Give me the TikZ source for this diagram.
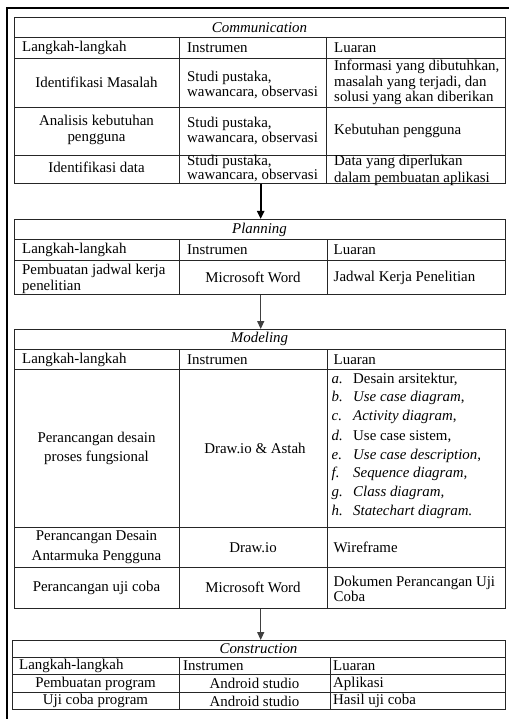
\documentclass[tikz,border=0pt]{standalone}
\usepackage{fontspec}
\setmainfont{Liberation Serif}
\usetikzlibrary{arrows.meta}
\begin{document}
\begin{tikzpicture}[x=1pt,y=-1pt,
  cell/.style={font=\fontsize{14.9}{15.7}\selectfont, inner sep=0pt, align=left},
  lcell/.style={cell, anchor=west},
  ccell/.style={cell, align=center},
  ttl/.style={cell, font=\fontsize{14.9}{15.7}\selectfont\itshape},
  tab/.style={draw=black!85, line width=0.9pt, inner sep=0pt, anchor=north west, rectangle},
  rule/.style={draw=black!85, line width=0.9pt},
  frame/.style={draw=black, line width=2.2pt},
  flow/.style={draw=black!75, line width=1.2pt, -{Triangle[width=7pt,length=8pt]}},
  flowbold/.style={flow, draw=black, line width=2pt},
]
\useasboundingbox (0,0) rectangle (508,719);
\fill[white] (0,0) rectangle (508,719);
\draw[frame] (7.3,8.3) rectangle (520,730);

% ---------------- Communication ----------------
\node[tab, minimum width=491pt, minimum height=166pt] (comm) at (14,17) {};
\draw[rule] (14,37) -- (505,37) (14,58) -- (505,58) (14,107) -- (505,107) (14,155) -- (505,155);
\draw[rule] (179,37) -- (179,183) (326.5,37) -- (326.5,183);
\node[ttl] (c-t) at (259.5,27.5) {Communication};
\node[lcell] (c-h1) at (22,47.5) {Langkah-langkah};
\node[lcell] (c-h2) at (187,47.5) {Instrumen};
\node[lcell] (c-h3) at (334,47.5) {Luaran};
\node[ccell] (c-11) at (96.5,82.5) {Identifikasi Masalah};
\node[lcell] (c-12) at (187,85) {Studi pustaka,\\wawancara, observasi};
\node[lcell] (c-13) at (334,82.5) {Informasi yang dibutuhkan,\\masalah yang terjadi, dan\\solusi yang akan diberikan};
\node[ccell, font=\fontsize{14.9}{16.6}\selectfont] (c-21) at (96.5,130) {Analisis kebutuhan\\pengguna};
\node[lcell, font=\fontsize{14.9}{14.3}\selectfont] (c-22) at (187,131) {Studi pustaka,\\wawancara, observasi};
\node[lcell] (c-23) at (334,130.5) {Kebutuhan pengguna};
\node[ccell] (c-31) at (96.5,167) {Identifikasi data};
\node[lcell, font=\fontsize{14.9}{13}\selectfont] (c-32) at (187,168.5) {Studi pustaka,\\wawancara, observasi};
\node[lcell, font=\fontsize{14.9}{16.5}\selectfont] (c-33) at (334,170.5) {Data yang diperlukan\\dalam pembuatan aplikasi};

% ---------------- Planning ----------------
\node[tab, minimum width=491pt, minimum height=75pt] (plan) at (14,219) {};
\draw[rule] (14,239) -- (505,239) (14,260) -- (505,260);
\draw[rule] (179,239) -- (179,294) (327,239) -- (327,294);
\node[ttl] (p-t) at (259.5,229.5) {Planning};
\node[lcell] (p-h1) at (22,250) {Langkah-langkah};
\node[lcell] (p-h2) at (187,250) {Instrumen};
\node[lcell] (p-h3) at (333.5,250) {Luaran};
\node[lcell] (p-11) at (22,279) {Pembuatan jadwal kerja\\penelitian};
\node[ccell] (p-12) at (253,277.5) {Microsoft Word};
\node[lcell] (p-13) at (333.5,277.5) {Jadwal Kerja Penelitian};

% ---------------- Modeling ----------------
\node[tab, minimum width=491pt, minimum height=279pt] (model) at (14,329) {};
\draw[rule] (14,349) -- (505,349) (14,369) -- (505,369) (14,527) -- (505,527) (14,567) -- (505,567);
\draw[rule] (179,349) -- (179,608) (327,349) -- (327,608);
\node[ttl] (m-t) at (259.5,339) {Modeling};
\node[lcell] (m-h1) at (22,359.5) {Langkah-langkah};
\node[lcell] (m-h2) at (187,359.5) {Instrumen};
\node[lcell] (m-h3) at (333.5,359.5) {Luaran};
\node[ccell, font=\fontsize{14.9}{18.7}\selectfont] (m-11) at (96.5,448.5) {Perancangan desain\\proses fungsional};
\node[ccell] (m-12) at (255,448.5) {Draw.io \& Astah};
\node[lcell] (m-la) at (331.5,379) {\makebox[21.5pt][l]{\itshape a.}Desain arsitektur,};
\node[lcell] (m-lb) at (331.5,398) {\makebox[21.5pt][l]{\itshape b.}\textit{Use case diagram},};
\node[lcell] (m-lc) at (331.5,417) {\makebox[21.5pt][l]{\itshape c.}\textit{Activity diagram},};
\node[lcell] (m-ld) at (331.5,436) {\makebox[21.5pt][l]{\itshape d.}Use case sistem,};
\node[lcell] (m-le) at (331.5,455.5) {\makebox[21.5pt][l]{\itshape e.}\textit{Use case description},};
\node[lcell] (m-lf) at (331.5,474) {\makebox[21.5pt][l]{\itshape f.}\textit{Sequence diagram,}};
\node[lcell] (m-lg) at (331.5,493) {\makebox[21.5pt][l]{\itshape g.}\textit{Class diagram,}};
\node[lcell] (m-lh) at (331.5,512) {\makebox[21.5pt][l]{\itshape h.}\textit{Statechart diagram.}};
\node[ccell, font=\fontsize{14.9}{20.4}\selectfont] (m-21) at (96.5,547) {Perancangan Desain\\Antarmuka Pengguna};
\node[ccell] (m-22) at (253,547.5) {Draw.io};
\node[lcell] (m-23) at (333.5,547.5) {Wireframe};
\node[ccell] (m-31) at (96.5,587.5) {Perancangan uji coba};
\node[ccell] (m-32) at (253,587.5) {Microsoft Word};
\node[lcell, font=\fontsize{14.9}{15}\selectfont] (m-33) at (333.5,588.5) {Dokumen Perancangan Uji\\Coba};

% ---------------- Construction ----------------
\node[tab, minimum width=493pt, minimum height=69pt] (cons) at (12,640) {};
\draw[rule] (12,657) -- (505,657) (12,674) -- (505,674) (12,692) -- (505,692);
\draw[rule] (179,657) -- (179,709) (330,657) -- (330,709);
\node[ttl] (k-t) at (258.5,648.5) {Construction};
\node[lcell] (k-h1) at (19,666) {Langkah-langkah};
\node[lcell] (k-h2) at (183,666) {Instrumen};
\node[lcell] (k-h3) at (333,666) {Luaran};
\node[ccell] (k-11) at (95.5,683.5) {Pembuatan program};
\node[ccell] (k-12) at (254.5,683.5) {Android studio};
\node[lcell] (k-13) at (333,683.5) {Aplikasi};
\node[ccell] (k-21) at (95.5,701) {Uji coba program};
\node[ccell] (k-22) at (254.5,701) {Android studio};
\node[lcell] (k-23) at (333,701) {Hasil uji coba};

% ---------------- Connectors ----------------
\coordinate (ax) at (260.7,0);
\draw[flowbold] (comm.south -| ax) -- (plan.north -| ax);
\draw[flow] (plan.south -| ax) -- (model.north -| ax);
\draw[flow] (model.south -| ax) -- (cons.north -| ax);
\end{tikzpicture}
\end{document}
